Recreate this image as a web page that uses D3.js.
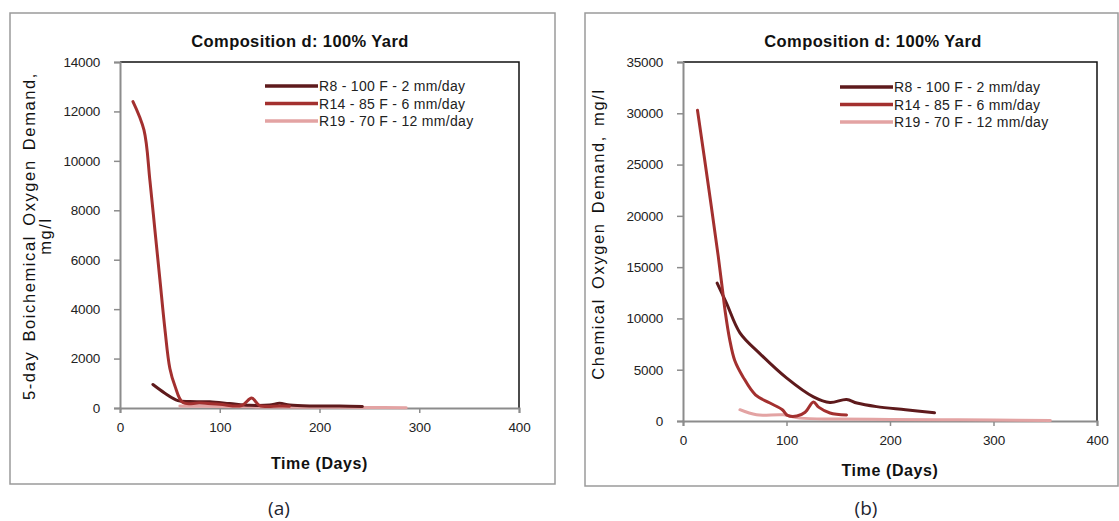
<!DOCTYPE html>
<html><head><meta charset="utf-8">
<script src="https://cdn.jsdelivr.net/npm/d3@7"></script>
<style>body{margin:0;background:#fff}svg{display:block}</style>
</head><body>
<svg id="c" width="1119" height="521"></svg>
<script>
const seriesNames = ["R8 - 100 F - 2 mm/day","R14 - 85 F - 6 mm/day","R19 - 70 F - 12 mm/day"];
const seriesColors = ["#5e1a1c","#a3302f","#e3a3a3"];
const xTicks = [0,100,200,300,400];
const bodTicks = [0,2000,4000,6000,8000,10000,12000,14000];
const codTicks = [0,5000,10000,15000,20000,25000,30000,35000];
// (a) BOD [day, mg/l]
const bodR8 = [[33,950],[45,600],[58,300],[70,260],[90,250],[110,180],[130,110],[150,120],[160,190],[170,120],[190,80],[220,80],[243,60]];
const bodR14 = [[13,12400],[24,11250],[30,9200],[35,7200],[40,5200],[45,3200],[50,1600],[55,900],[63,220],[80,200],[100,150],[122,100],[132,400],[140,100],[160,80],[170,70]];
const bodR19 = [[60,80],[80,70],[100,60],[150,40],[200,30],[250,20],[287,10]];
// (b) COD [day, mg/l]
const codR8 = [[33,13450],[42,11500],[55,8600],[74,6600],[100,4200],[126,2350],[142,1800],[158,2100],[168,1750],[187,1400],[215,1100],[243,800]];
const codR14 = [[14,30300],[25,22600],[34,16100],[38,12900],[41,10500],[45,8000],[50,5900],[58,4300],[70,2550],[84,1750],[96,1100],[101,550],[110,480],[118,850],[126,1850],[131,1350],[142,780],[158,580]];
const codR19 = [[55,1100],[71,600],[97,600],[113,280],[150,200],[200,150],[250,120],[300,100],[355,60]];

const svg = d3.select("#c");
const font = "'Liberation Sans', Arial, sans-serif";

function panel(cfg){
  const g = svg.append("g");
  g.append("rect").attr("x",cfg.box[0]).attr("y",cfg.box[1]).attr("width",cfg.box[2]).attr("height",cfg.box[3])
    .attr("fill","#fff").attr("stroke","#9a9a9a").attr("stroke-width",1.5);
  const x = d3.scaleLinear().domain([0,400]).range([cfg.pl, cfg.pr]);
  const y = d3.scaleLinear().domain([0,cfg.ymax]).range([cfg.pb, cfg.pt]);
  g.append("path").attr("d",`M${cfg.pl},${cfg.pt}H${cfg.pr}V${cfg.pb}`).attr("fill","none").attr("stroke","#111").attr("stroke-width",1.5);
  const ya = g.append("g").attr("transform",`translate(${cfg.pl},0)`).call(d3.axisLeft(y).tickValues(cfg.yticks).tickSize(6).tickPadding(14).tickFormat(d3.format("d")));
  const xa = g.append("g").attr("transform",`translate(0,${cfg.pb})`).call(d3.axisBottom(x).tickValues(xTicks).tickSize(5).tickPadding(9).tickFormat(d3.format("d")));
  [ya,xa].forEach(a=>{
    a.select(".domain").attr("stroke","#8c8c8c").attr("stroke-width",2);
    a.selectAll(".tick line").attr("stroke","#8c8c8c").attr("stroke-width",1.5);
    a.selectAll(".tick text").attr("font-family",font).attr("font-size",13.5).attr("fill","#222").attr("letter-spacing","-0.2");
  });
  const line = d3.line().x(d=>x(d[0])).y(d=>y(d[1])).curve(d3.curveCatmullRom.alpha(0.5));
  [2,0,1].forEach(i=>{
    g.append("path").datum(cfg.data[i]).attr("d",line).attr("fill","none")
      .attr("stroke",seriesColors[i]).attr("stroke-width",3).attr("stroke-linejoin","round").attr("stroke-linecap","round");
  });
  g.append("text").attr("x",cfg.titleX).attr("y",47).attr("text-anchor","middle").attr("font-family",font)
    .attr("font-weight","bold").attr("font-size",16.5).attr("letter-spacing","0.4").attr("fill","#111").text("Composition d: 100% Yard");
  seriesNames.forEach((n,i)=>{
    const ly = cfg.legY + i*17.5;
    g.append("line").attr("x1",cfg.legX-53).attr("x2",cfg.legX).attr("y1",ly).attr("y2",ly)
      .attr("stroke",seriesColors[i]).attr("stroke-width",3.5);
    g.append("text").attr("x",cfg.legX+1).attr("y",ly+5).attr("font-family",font).attr("font-size",14)
      .attr("fill","#222").attr("letter-spacing","0.3").text(n);
  });
  g.append("text").attr("x",(cfg.pl+cfg.pr)/2).attr("y",cfg.xtY).attr("text-anchor","middle").attr("font-family",font)
    .attr("font-weight","bold").attr("font-size",16).attr("letter-spacing","0.6").attr("fill","#111").text("Time (Days)");
  cfg.ytitle.forEach((t,i)=>{
    g.append("text").attr("transform",`translate(${cfg.ytX[i]},${cfg.ytY}) rotate(-90)`).attr("text-anchor","middle")
      .attr("font-family",font).attr("font-size",16.5).attr("fill","#111").attr("letter-spacing","1.6").attr("word-spacing","3").text(t);
  });
  svg.append("text").attr("x",cfg.capX).attr("y",515).attr("text-anchor","middle").attr("font-family","'Open Sans', sans-serif")
    .attr("font-size",19).attr("fill","#1e2530").text(cfg.cap);
}

panel({box:[10,13,545,471], pl:120, pr:519, pt:62, pb:408, ymax:14000, yticks:bodTicks,
  data:[bodR8,bodR14,bodR19], titleX:300, legX:318, legY:86, xtY:469,
  ytitle:["5-day Boichemical Oxygen Demand,","mg/l"], ytX:[35,51], ytY:236, capX:279, cap:"(a)"});
panel({box:[585,13,533,473], pl:683, pr:1097, pt:62, pb:421, ymax:35000, yticks:codTicks,
  data:[codR8,codR14,codR19], titleX:873, legX:893, legY:87, xtY:476,
  ytitle:["Chemical Oxygen Demand, mg/l"], ytX:[604], ytY:234, capX:866, cap:"(b)"});
</script>
</body></html>
